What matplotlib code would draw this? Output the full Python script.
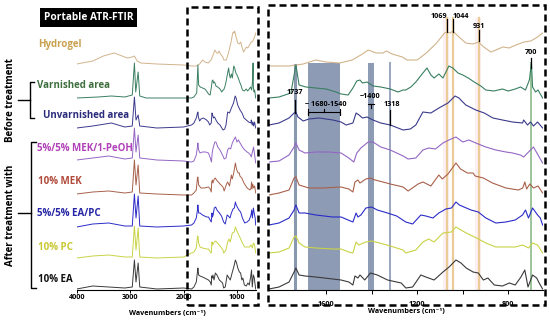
import matplotlib
matplotlib.use('Agg')
import matplotlib.pyplot as plt
from matplotlib.lines import Line2D
from matplotlib.patches import Rectangle

plt.rcParams['font.family'] = ['Open Sans', 'DejaVu Sans']
plt.rcParams['font.weight'] = 'bold'

# spectra: wavenumber (cm-1) and stacked intensity (offset included)
hydrogel_wn = [4000, 3700, 3500, 3300, 3150, 3050, 2960, 2920, 2870, 2800, 2500, 2000, 1850,
               1760, 1700, 1645, 1600, 1540, 1485, 1440, 1415, 1380, 1350, 1335, 1310, 1265,
               1245, 1200, 1160, 1115, 1080, 1069, 1056, 1044, 1017, 987, 956, 931, 908, 877,
               855, 824, 797, 767, 732, 702, 672, 650]
hydrogel_ab = [226, 229, 234, 237, 234, 232, 233, 234, 229, 227, 226, 225, 224,
               224, 226, 230, 228, 227, 230, 236, 240, 237, 237, 239, 236, 233,
               230, 230, 237, 247, 257, 258, 257, 259, 253, 247, 246, 248, 243, 238,
               240, 243, 242, 245, 248, 249, 253, 257]

varnished_wn = [4000, 3600, 3350, 3100, 2960, 2920, 2895, 2850, 2820, 2700, 2000, 1850,
                1806, 1754, 1732, 1718, 1688, 1645, 1600, 1556, 1534, 1503, 1482, 1465, 1451,
                1440, 1420, 1394, 1360, 1318, 1284, 1262, 1250, 1228, 1206, 1175, 1157, 1140,
                1126, 1105, 1087, 1061, 1044, 1021, 1000, 976, 950, 921, 899, 864, 826, 801,
                770, 747, 725, 708, 699, 694, 681, 670, 650]
varnished_ab = [192, 193, 194, 193, 195, 227, 198, 218, 194, 192, 192, 192,
                193, 197, 225, 205, 203, 202, 201, 198, 196, 195, 202, 209, 210,
                207, 208, 204, 203, 201, 198, 200, 200, 203, 208, 217, 222, 215,
                212, 216, 212, 224, 222, 217, 215, 212, 208, 204, 200, 199, 201, 199,
                201, 203, 200, 210, 227, 203, 198, 200, 192]

unvarnished_wn = [4000, 3700, 3350, 3100, 2960, 2920, 2890, 2850, 2820, 2500, 2000, 1850,
                  1806, 1762, 1740, 1732, 1723, 1700, 1675, 1630, 1570, 1534, 1512, 1482, 1468,
                  1455, 1440, 1420, 1394, 1360, 1318, 1262, 1230, 1206, 1175, 1140, 1105, 1065,
                  1034, 1017, 987, 943, 906, 868, 826, 782, 738, 733, 716, 703, 690, 672, 650]
unvarnished_ab = [162, 164, 167, 163, 164, 193, 170, 175, 164, 162, 163, 165,
                  167, 172, 177, 178, 173, 169, 171, 172, 170, 168, 165, 167, 177,
                  175, 172, 173, 170, 167, 165, 160, 161, 165, 178, 177, 182, 187,
                  194, 192, 185, 180, 177, 172, 170, 168, 167, 170, 165, 168, 164, 168, 162]

mek_peoh_wn = [4000, 3700, 3400, 3100, 2960, 2920, 2890, 2850, 2820, 2500, 2000, 1850,
               1806, 1762, 1740, 1732, 1718, 1692, 1645, 1587, 1534, 1500, 1478, 1465, 1447,
               1415, 1394, 1360, 1318, 1262, 1240, 1206, 1175, 1150, 1120, 1087, 1061, 1030,
               1000, 973, 943, 899, 855, 811, 782, 747, 733, 716, 690, 670, 650]
mek_peoh_ab = [130, 132, 134, 131, 132, 162, 138, 155, 132, 130, 129, 128,
               129, 135, 143, 147, 140, 137, 138, 138, 137, 132, 128, 137, 142,
               148, 148, 143, 140, 134, 131, 132, 140, 142, 141, 147, 150, 153,
               148, 150, 147, 143, 140, 138, 137, 135, 133, 137, 143, 135, 127]

mek_wn = [4000, 3700, 3400, 3100, 2960, 2920, 2890, 2850, 2820, 2500, 2000, 1850,
          1806, 1762, 1740, 1732, 1718, 1675, 1614, 1534, 1500, 1482, 1473, 1460, 1451,
          1425, 1405, 1385, 1350, 1318, 1262, 1240, 1196, 1175, 1166, 1140, 1105, 1090,
          1065, 1030, 1010, 980, 955, 946, 910, 870, 811, 756, 737, 728, 720, 706, 690,
          670, 650]
mek_ab = [96, 98, 99, 97, 98, 130, 105, 125, 97, 96, 95, 95,
          97, 100, 112, 113, 105, 102, 102, 103, 101, 98, 108, 110, 107,
          111, 112, 110, 108, 106, 103, 99, 106, 108, 107, 104, 115, 111,
          116, 127, 121, 117, 117, 114, 112, 107, 102, 100, 102, 108, 101, 106, 102,
          104, 97]

ea_pc_wn = [4000, 3700, 3400, 3100, 2960, 2920, 2890, 2850, 2820, 2500, 2000, 1850,
            1806, 1762, 1740, 1732, 1718, 1692, 1645, 1570, 1534, 1503, 1482, 1468, 1460,
            1447, 1425, 1400, 1375, 1330, 1290, 1250, 1220, 1184, 1162, 1131, 1105, 1074,
            1050, 1030, 1015, 995, 964, 932, 899, 855, 811, 770, 738, 725, 712, 694, 672,
            660, 650]
ea_pc_ab = [63, 66, 67, 64, 64, 96, 72, 94, 64, 63, 64, 65,
            67, 72, 80, 85, 77, 77, 75, 73, 73, 70, 68, 77, 73,
            75, 82, 83, 80, 77, 74, 68, 66, 75, 74, 72, 77, 81,
            82, 88, 85, 83, 80, 78, 72, 67, 68, 70, 75, 80, 72, 82, 75,
            72, 65]

pc_wn = [4000, 3700, 3400, 3100, 2960, 2920, 2890, 2850, 2820, 2500, 2000, 1850,
         1806, 1762, 1740, 1732, 1718, 1692, 1645, 1570, 1534, 1500, 1482, 1468, 1457,
         1425, 1400, 1365, 1318, 1262, 1250, 1206, 1175, 1150, 1126, 1087, 1050, 1030,
         1008, 985, 940, 899, 855, 811, 770, 738, 712, 694, 672, 650]
pc_ab = [32, 34, 35, 33, 33, 64, 40, 62, 33, 32, 33, 37,
         38, 42, 53, 54, 47, 43, 42, 41, 41, 38, 37, 48, 45,
         48, 49, 47, 44, 40, 37, 40, 48, 51, 48, 57, 58, 63,
         60, 57, 52, 47, 43, 43, 43, 45, 42, 47, 45, 37]

ea_wn = [4000, 3700, 3400, 3100, 2960, 2920, 2890, 2850, 2820, 2500, 2000, 1850,
         1806, 1762, 1740, 1732, 1718, 1692, 1645, 1570, 1534, 1500, 1482, 1473, 1460,
         1451, 1430, 1405, 1375, 1330, 1270, 1250, 1220, 1184, 1162, 1126, 1087, 1060,
         1030, 1008, 985, 955, 932, 910, 890, 862, 826, 796, 770, 745, 728, 714, 694,
         676, 665, 650]
ea_ab = [1, 4, 3, 2, 3, 30, 8, 27, 3, 1, 2, 1,
         3, 8, 18, 22, 15, 14, 13, 11, 10, 8, 5, 14, 12,
         15, 10, 17, 15, 10, 7, 2, 3, 15, 13, 10, 18, 23,
         30, 27, 22, 18, 17, 10, 12, 5, 4, 7, 5, 13, 20, 3, 15,
         12, 7, 1]

series_labels = ['Hydrogel', 'Varnished area', 'Unvarnished area', '5%/5% MEK/1-PeOH',
                 '10% MEK', '5%/5% EA/PC', '10% PC', '10% EA']
line_colors = ['#D2B48C', '#3A7F62', '#3A3A8C', '#9466C4', '#A8604A', '#2B2BC8', '#C9D345', '#3A3A3A']
text_colors = ['#C8A050', '#3F6F3F', '#2B2B7B', '#B040B8', '#B04A3A', '#2525A5', '#C8C832', '#111111']
label_y = [45, 85, 115, 149, 182, 214, 248, 280]
label_x = [38, 37, 43, 37, 38, 37, 38, 38]

spectra = [(hydrogel_wn, hydrogel_ab), (varnished_wn, varnished_ab), (unvarnished_wn, unvarnished_ab),
           (mek_peoh_wn, mek_peoh_ab), (mek_wn, mek_ab), (ea_pc_wn, ea_pc_ab), (pc_wn, pc_ab), (ea_wn, ea_ab)]

W, H = 550, 322
fig = plt.figure(figsize=(5.5, 3.22), dpi=100)


def fx(px):
    return px / W


def fy(py):
    return 1 - py / H


def fig_line(xs, ys, **kw):
    fig.add_artist(Line2D([fx(x) for x in xs], [fy(y) for y in ys], transform=fig.transFigure, **kw))


ax_l = fig.add_axes([fx(76.7), fy(290), (255.7 - 76.7) / W, 285 / H])
ax_r = fig.add_axes([fx(269), fy(290), (542.6 - 269) / W, 285 / H])

for ax in (ax_l, ax_r):
    ax.set_facecolor('none')
    ax.set_ylim(0, 285)
    ax.set_yticks([])
    for s in ('left', 'right', 'top'):
        ax.spines[s].set_visible(False)
    ax.spines['bottom'].set_linewidth(0.8)

ax_l.set_xlim(4000, 650)
ax_r.set_xlim(1850, 650)

# marker bands in the zoomed panel
band_col = '#8D9BB5'
ax_r.axvspan(1680, 1540, ymin=0, ymax=227 / 285, color=band_col, lw=0, zorder=0)
ax_r.axvspan(1417, 1390, ymin=0, ymax=227 / 285, color=band_col, lw=0, zorder=0)
ax_r.plot([1737, 1737], [0, 225], color='#8A97B0', lw=2.2, zorder=0.5)
ax_r.plot([1318, 1318], [0, 227], color='#9AA6BE', lw=1.4, zorder=0.5)
ax_r.axvspan(1085, 1060, ymin=0, ymax=272 / 285, color='#FDF0F3', lw=0, zorder=0)
ax_r.axvspan(945, 918, ymin=0, ymax=272 / 285, color='#FDF0F3', lw=0, zorder=0)
for wn in (1069, 1044, 931):
    ax_r.plot([wn, wn], [0, 272], color='#EBCB98', lw=1.6, zorder=0.5)
ax_r.plot([700, 700], [0, 227], color='#9CC49A', lw=1.4, zorder=0.5)

for (wn, ab), col in zip(spectra, line_colors):
    ax_l.plot(wn, ab, color=col, lw=0.7, zorder=2)
    ax_r.plot(wn, ab, color=col, lw=0.8, zorder=2)

# peak annotations
ann_kw = dict(fontsize=5.2, color='black', zorder=3)
ax_r.text(1069, 274, '1069', ha='right', va='center', **ann_kw)
ax_r.text(1044, 274, '1044', ha='left', va='center', **ann_kw)
ax_r.plot([1069, 1069], [258, 271], color='k', lw=0.9, zorder=3)
ax_r.plot([1044, 1044], [258, 271], color='k', lw=0.9, zorder=3)
ax_r.text(931, 263, '931', ha='center', va='center', **ann_kw)
ax_r.plot([931, 931], [249, 260], color='k', lw=0.9, zorder=3)
ax_r.text(700, 237, '700', ha='center', va='center', **ann_kw)
ax_r.plot([700, 700], [222, 232], color='k', lw=0.9, zorder=3)
ax_r.text(1737, 198, '1737', ha='center', va='center', **ann_kw)
ax_r.plot([1737, 1737], [177, 190], color='k', lw=0.9, zorder=3)
ax_r.text(1600, 186, '~ 1680-1540', ha='center', va='center', **ann_kw)
ax_r.plot([1680, 1680, 1680, 1540, 1540, 1540], [181, 175, 178, 178, 175, 181], color='k', lw=0.8, zorder=3)
ax_r.plot([1610, 1610], [178, 181], color='k', lw=0.8, zorder=3)
ax_r.text(1407, 194, '~1400', ha='center', va='center', **ann_kw)
ax_r.plot([1417, 1390], [186, 186], color='k', lw=0.8, zorder=3)
ax_r.plot([1404, 1404], [186, 182], color='k', lw=0.8, zorder=3)
ax_r.text(1312, 185, '1318', ha='center', va='center', **ann_kw)
ax_r.plot([1318, 1318], [165, 180], color='k', lw=0.9, zorder=3)

# axes ticks
ax_l.set_xticks([4000, 3000, 2000, 1000])
ax_l.tick_params(axis='x', labelsize=5.2, length=2, width=0.7, pad=1)
ax_r.set_xticks([1600, 1200, 800])
ax_r.set_xticks([1400, 1000], minor=True)
ax_r.tick_params(axis='x', which='both', labelsize=5.2, length=3, width=0.7, pad=5)
fig.text(fx(167), fy(313), 'Wavenumbers (cm⁻¹)', ha='center', va='center', fontsize=5.2)
fig.text(fx(406), fy(311), 'Wavenumbers (cm⁻¹)', ha='center', va='center', fontsize=5.2)

# dashed zoom boxes
box_kw = dict(fill=False, ec='black', lw=1.8, ls=(0, (2.8, 1.6)), transform=fig.transFigure)
fig.add_artist(Rectangle((fx(187), fy(305)), (258 - 187) / W, (305 - 7) / H, **box_kw))
fig.add_artist(Rectangle((fx(268), fy(305)), (545 - 268) / W, (305 - 5) / H, **box_kw))

# title and series labels
fig.text(fx(88.5), fy(17.5), 'Portable ATR-FTIR', color='white', fontsize=7.3, ha='center', va='center',
         bbox=dict(boxstyle='square,pad=0.38', fc='black', ec='none'))
for lab, col, x, y in zip(series_labels, text_colors, label_x, label_y):
    fig.text(fx(x), fy(y), lab, color=col, fontsize=7, ha='left', va='center')

fig.text(fx(11), fy(100), 'Before treatment', rotation=90, fontsize=7, ha='center', va='center')
fig.text(fx(11), fy(215), 'After treatment with', rotation=90, fontsize=7, ha='center', va='center')
fig_line([34, 30, 30, 34], [82, 82, 118, 118], color='black', lw=1.0)
fig_line([18, 30], [100, 100], color='black', lw=1.0)
fig_line([36, 31, 31, 36], [142, 142, 288, 288], color='black', lw=1.0)
fig_line([18, 31], [213, 213], color='black', lw=1.0)

fig.savefig('out.png', dpi=100)
